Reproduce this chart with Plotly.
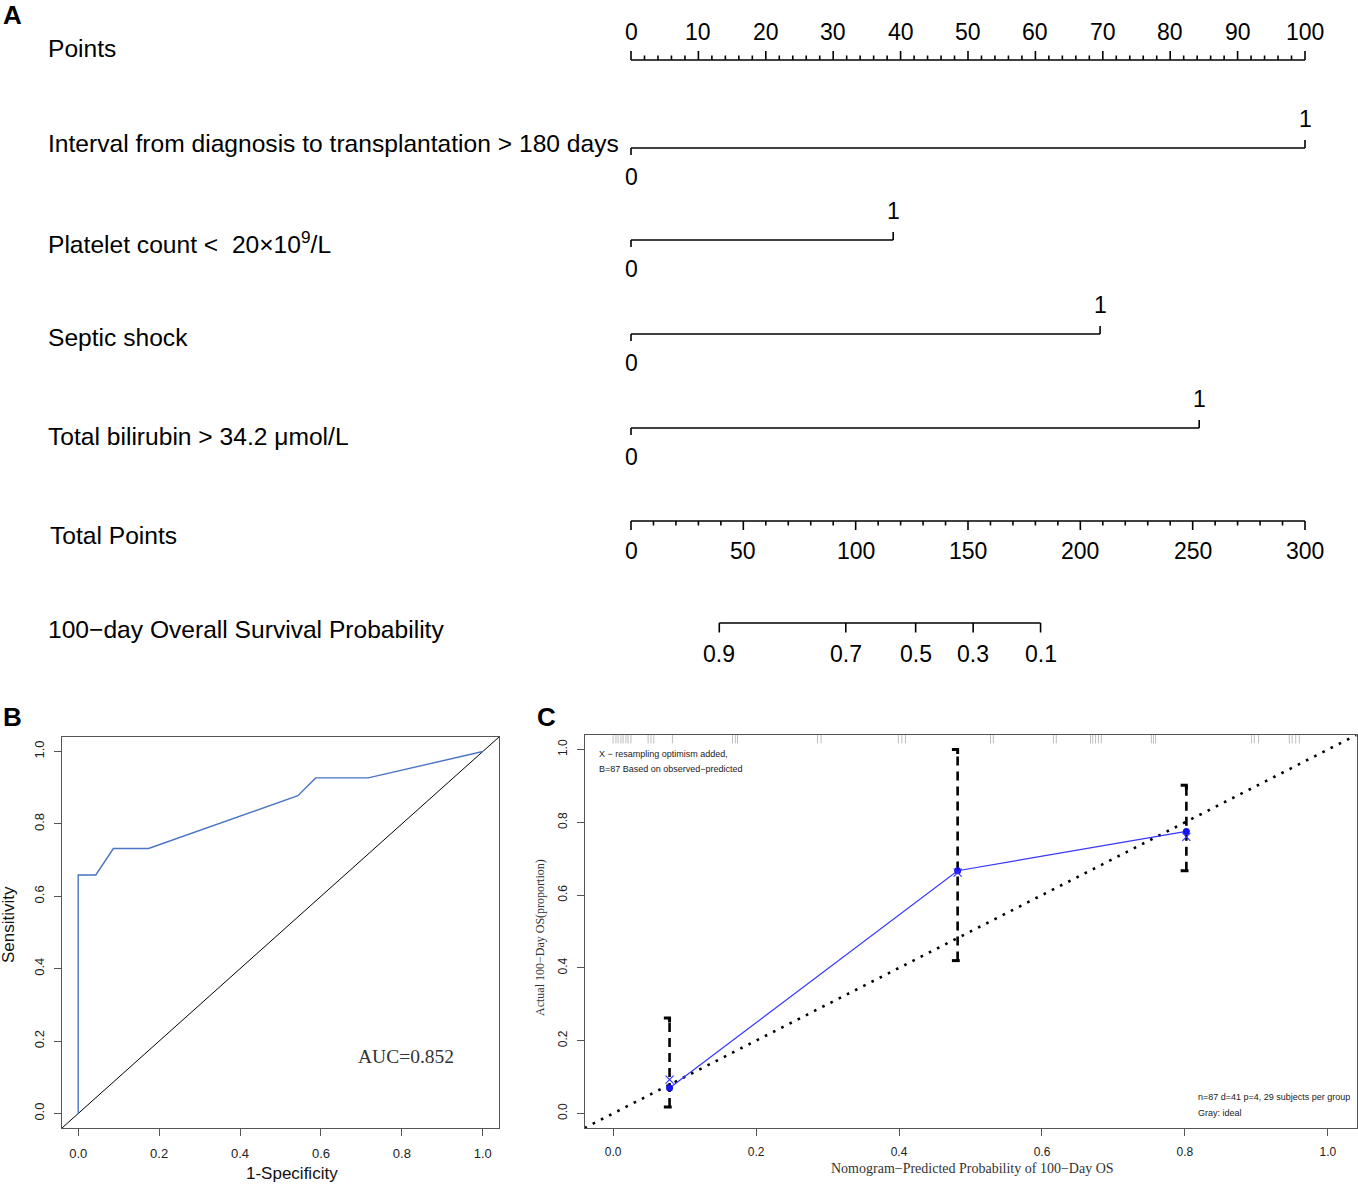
import plotly.graph_objects as go

W, H = 1358, 1184

# ---------------- Data ----------------
# Panel A: nomogram
points_ticks = list(range(0, 101, 10))
points_minor = list(range(0, 101, 2))
var_labels = ["Interval from diagnosis to transplantation > 180 days",
              "Platelet count <  20×10<sup>9</sup>/L",
              "Septic shock",
              "Total bilirubin > 34.2 μmol/L"]
var_points = [100, 38.9, 69.6, 84.3]
level_low = ["0", "0", "0", "0"]
level_high = ["1", "1", "1", "1"]
total_ticks = list(range(0, 301, 50))
total_minor = list(range(0, 301, 10))
surv_labels = ["0.9", "0.7", "0.5", "0.3", "0.1"]
surv_total_points = [39.3, 95.6, 126.7, 152.3, 182.3]

# Panel B: ROC
roc_fpr = [0, 0, 0.0435, 0.087, 0.174, 0.543, 0.587, 0.717, 1.0]
roc_tpr = [0, 0.659, 0.659, 0.732, 0.732, 0.878, 0.927, 0.927, 1.0]
auc_label = "AUC=0.852"

# Panel C: calibration
cal_pred = [0.079, 0.482, 0.802]
cal_obs = [0.070, 0.667, 0.775]
cal_corrected = [0.093, 0.662, 0.760]
cal_lower = [0.018, 0.420, 0.667]
cal_upper = [0.262, 1.000, 0.902]
rug_pred = [0.000, 0.004, 0.007, 0.011, 0.014, 0.018, 0.021, 0.025,
            0.049, 0.053, 0.057, 0.083, 0.167, 0.171, 0.174, 0.286, 0.291,
            0.399, 0.404, 0.409, 0.528, 0.532, 0.616, 0.620,
            0.668, 0.671, 0.675, 0.679, 0.683, 0.753, 0.756, 0.759,
            0.893, 0.897, 0.903, 0.946, 0.950, 0.955, 0.960]
tick_vals = [0, 0.2, 0.4, 0.6, 0.8, 1.0]
tick_text = ["0.0", "0.2", "0.4", "0.6", "0.8", "1.0"]

# ---------------- Layout constants (pixels) ----------------
PX0, PX100 = 631, 1305          # points 0 and 100
PPP = (PX100 - PX0) / 100.0      # pixels per point
A_H = 700                        # panel A height in px

def p2x(px):
    return (px - PX0) / PPP

SANS = "Liberation Sans"
SERIF = "Liberation Serif"
BLACK = "#000000"

fig = go.Figure()

def seg_trace(xs, ys, xaxis="x", yaxis="y", color=BLACK, width=1.6, dash=None):
    fig.add_trace(go.Scatter(x=xs, y=ys, mode="lines", xaxis=xaxis, yaxis=yaxis,
                             line=dict(color=color, width=width, dash=dash),
                             hoverinfo="skip", showlegend=False))

ann = []
def text(x, y, s, size, xref="x", yref="y", xanchor="center", yanchor="middle",
         family=SANS, color=BLACK, textangle=0, bold=False):
    if bold:
        s = "<b>" + s + "</b>"
    ann.append(dict(x=x, y=y, text=s, xref=xref, yref=yref, showarrow=False,
                    xanchor=xanchor, yanchor=yanchor, textangle=textangle,
                    font=dict(family=family, size=size, color=color)))

# ---------------- Panel A ----------------
Y_POINTS = 60
Y_ROWS = [148, 240, 334, 428]
Y_TOTAL = 521
Y_SURV = 623
LABEL_Y = [48, 143, 242, 337, 436, 535, 629]
LABEL_X = 46 / W
LABEL_SIZE = 24.6

# Points axis
xs, ys = [0, 100, None], [Y_POINTS, Y_POINTS, None]
for v in points_minor:
    top = Y_POINTS - 9 if v in points_ticks else Y_POINTS - 4.5
    xs += [v, v, None]
    ys += [Y_POINTS, top, None]
seg_trace(xs, ys)
for v in points_ticks:
    text(v, 32, str(v), 23)
text(LABEL_X, LABEL_Y[0], "Points", LABEL_SIZE, xref="paper", xanchor="left")

# Variable rows
for i, (lab, pts) in enumerate(zip(var_labels, var_points)):
    y0 = Y_ROWS[i]
    seg_trace([0, pts, None, 0, 0, None, pts, pts],
              [y0, y0, None, y0, y0 + 7, None, y0, y0 - 8])
    text(pts, y0 - 29, level_high[i], 23)
    text(0, y0 + 29, level_low[i], 23)
    text(LABEL_X, LABEL_Y[i + 1], lab, LABEL_SIZE, xref="paper", xanchor="left")

# Total points axis
xs, ys = [0, 100, None], [Y_TOTAL, Y_TOTAL, None]
for v in total_minor:
    bot = Y_TOTAL + 9 if v in total_ticks else Y_TOTAL + 4.5
    xs += [v / 3.0, v / 3.0, None]
    ys += [Y_TOTAL, bot, None]
seg_trace(xs, ys)
for v in total_ticks:
    text(v / 3.0, 551, str(v), 23)
text(LABEL_X + 2 / W, LABEL_Y[5], "Total Points", LABEL_SIZE, xref="paper", xanchor="left")

# Survival probability axis
sx = [t / 3.0 for t in surv_total_points]
xs, ys = [sx[0], sx[-1], None], [Y_SURV, Y_SURV, None]
for v in sx:
    xs += [v, v, None]
    ys += [Y_SURV, Y_SURV + 9.5, None]
seg_trace(xs, ys)
for v, s in zip(sx, surv_labels):
    text(v, 654, s, 23)
text(LABEL_X, LABEL_Y[6], "100−day Overall Survival Probability", LABEL_SIZE, xref="paper", xanchor="left")

# Panel letters
text(1 / W, 1 - 15 / H, "A", 26, xref="paper", yref="paper", xanchor="left", bold=True)
text(1 / W, 1 - 717 / H, "B", 26, xref="paper", yref="paper", xanchor="left", bold=True)
text(535 / W, 1 - 717 / H, "C", 26, xref="paper", yref="paper", xanchor="left", bold=True)

# ---------------- Panel B ----------------
seg_trace([-0.04, 1.04], [-0.04, 1.04], "x2", "y2", color=BLACK, width=1)
seg_trace(roc_fpr, roc_tpr, "x2", "y2", color="#4A74C4", width=1.4)
text(406 / W, 1 - 1056 / H, auc_label, 19.5, xref="paper", yref="paper", family=SERIF, color="#333")
text(8 / W, 1 - 925 / H, "Sensitivity", 17, xref="paper", yref="paper", textangle=-90, color="#111")
text(292 / W, 1 - 1173 / H, "1-Specificity", 17, xref="paper", yref="paper", color="#111")

# ---------------- Panel C ----------------
# rug
xs, ys = [], []
for v in rug_pred:
    xs += [v, v, None]
    ys += [1.04, 1.017, None]
seg_trace(xs, ys, "x3", "y3", color="#BDBDBD", width=1)
# ideal dotted line
seg_trace([-0.04, 1.04], [-0.04, 1.04], "x3", "y3", color=BLACK, width=2.6, dash="2.6px,6.6px")
# error bars
xs, ys = [], []
for p, lo, hi in zip(cal_pred, cal_lower, cal_upper):
    xs += [p, p, None]
    ys += [lo, hi, None]
seg_trace(xs, ys, "x3", "y3", color=BLACK, width=2.6, dash="9px,6px")
xs, ys = [], []
for p, lo, hi in zip(cal_pred, cal_lower, cal_upper):
    xs += [p - 0.008, p + 0.002, None, p - 0.008, p + 0.003, None]
    ys += [hi, hi, None, lo, lo, None]
seg_trace(xs, ys, "x3", "y3", color=BLACK, width=3)
xs, ys = [], []
for p, hi in zip(cal_pred, cal_upper):
    xs += [p, p, None]
    ys += [hi, hi - 0.012, None]
seg_trace(xs, ys, "x3", "y3", color=BLACK, width=3)
# observed line and points
fig.add_trace(go.Scatter(x=cal_pred, y=cal_obs, mode="lines+markers", xaxis="x3", yaxis="y3",
                         line=dict(color="#3535FF", width=1.2),
                         marker=dict(color="#1414F0", size=7, symbol="circle"),
                         hoverinfo="skip", showlegend=False))
fig.add_trace(go.Scatter(x=cal_pred, y=cal_corrected, mode="markers", xaxis="x3", yaxis="y3",
                         marker=dict(color="#3535FF", size=8, symbol="x-thin",
                                     line=dict(color="#3535FF", width=1.2)),
                         hoverinfo="skip", showlegend=False))

text(597 / W, 1 - 754 / H, "X − resampling optimism added,", 9, xref="paper", yref="paper", xanchor="left", color="#222")
text(597 / W, 1 - 769 / H, "B=87 Based on observed−predicted", 9, xref="paper", yref="paper", xanchor="left", color="#222")
text(1196 / W, 1 - 1097 / H, "n=87 d=41 p=4, 29 subjects per group", 9, xref="paper", yref="paper", xanchor="left", color="#222")
text(1196 / W, 1 - 1113 / H, "Gray: ideal", 9, xref="paper", yref="paper", xanchor="left", color="#222")
text(540 / W, 1 - 938 / H, "Actual 100−Day OS(proportion)", 12, xref="paper", yref="paper", textangle=-90, family=SERIF, color="#333")
text(972 / W, 1 - 1168 / H, "Nomogram−Predicted Probability of 100−Day OS", 14, xref="paper", yref="paper", family=SERIF, color="#333")

# ---------------- Axes ----------------
def frame_axis(domain, angle=0, standoff=6, size=13):
    return dict(domain=domain, range=[-0.04, 1.04], showgrid=False, zeroline=False,
                showline=True, mirror=True, linecolor="#555", linewidth=1,
                ticks="outside", ticklen=7, tickcolor="#555", tickwidth=1,
                tickvals=tick_vals, ticktext=tick_text, tickangle=angle,
                ticklabelstandoff=standoff,
                tickfont=dict(family=SANS, size=size, color="#222"), fixedrange=True)

fig.update_layout(
    width=W, height=H, autosize=False,
    margin=dict(l=0, r=0, t=0, b=0),
    paper_bgcolor="white", plot_bgcolor="white",
    showlegend=False,
    xaxis=dict(domain=[0, 1], range=[p2x(0), p2x(W)], visible=False, fixedrange=True),
    yaxis=dict(domain=[1 - A_H / H, 1], range=[A_H, 0], visible=False, fixedrange=True),
    xaxis2=dict(frame_axis([62 / W, 499 / W], 0, 6), anchor="y2"),
    yaxis2=dict(frame_axis([1 - 1128 / H, 1 - 737 / H], -90, 5), anchor="x2"),
    xaxis3=dict(frame_axis([584.5 / W, 1356.5 / W], 0, 6, 12), anchor="y3"),
    yaxis3=dict(frame_axis([1 - 1128 / H, 1 - 735 / H], -90, 5, 12), anchor="x3"),
    annotations=ann,
)

fig.write_html("out.html", config={"displayModeBar": False},
               post_script="document.body.style.margin='0';document.body.style.overflow='hidden';")
